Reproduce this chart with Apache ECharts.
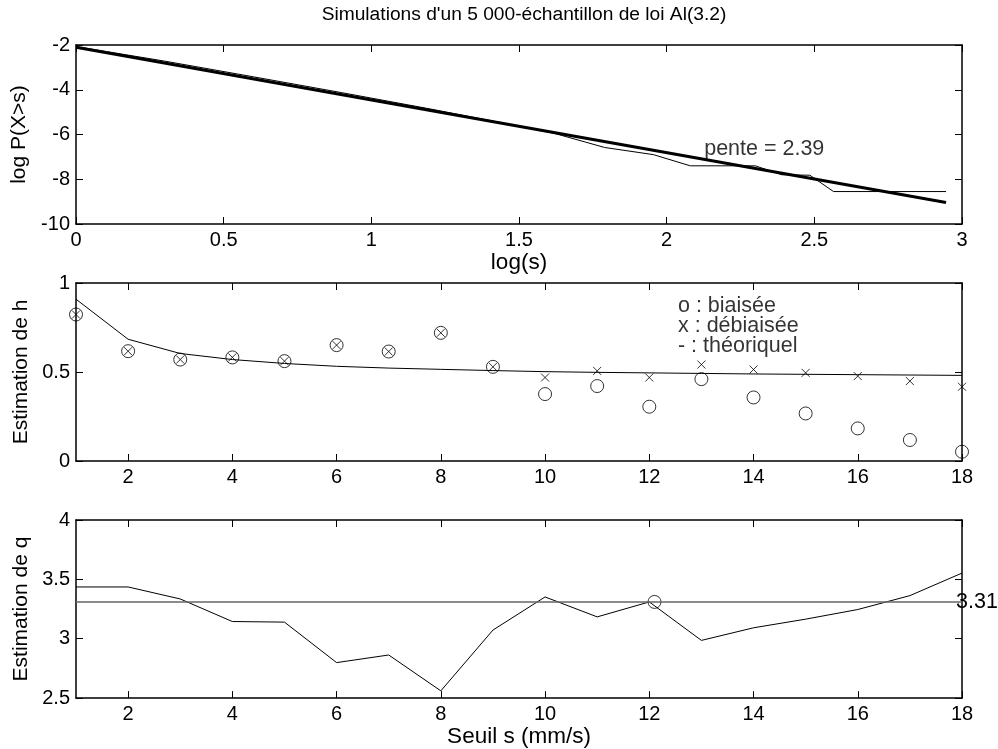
<!DOCTYPE html>
<html>
<head>
<meta charset="utf-8">
<script src="https://cdn.jsdelivr.net/npm/echarts@6/dist/echarts.min.js"></script>
<style>
  html, body { margin: 0; padding: 0; background: #fff; }
  #chart { width: 998px; height: 749px; }
</style>
</head>
<body>
<div id="chart"></div>
<script>
// top panel : log-log tail
var logS = [0, 0.3, 0.6, 0.9, 1.2, 1.45, 1.62, 1.79, 1.955, 2.08, 2.3, 2.39, 2.485, 2.565, 2.946];
var logP = [-2.07, -2.72, -3.42, -4.13, -4.86, -5.5, -5.95, -6.58, -6.9, -7.4, -7.4, -7.8, -7.82, -8.55, -8.55];
var fitX = [0, 2.946];
var fitY = [-2.1, -9.04];

// middle panel : estimation of h
var seuils = [1, 2, 3, 4, 5, 6, 7, 8, 9, 10, 11, 12, 13, 14, 15, 16, 17, 18];
var hBiaisee = [0.823, 0.617, 0.570, 0.582, 0.561, 0.651, 0.615, 0.720, 0.529, 0.376, 0.421, 0.305, 0.460, 0.357, 0.267, 0.183, 0.118, 0.052];
var hDebiaisee = [0.823, 0.617, 0.570, 0.582, 0.561, 0.651, 0.615, 0.720, 0.529, 0.469, 0.506, 0.469, 0.542, 0.514, 0.495, 0.477, 0.449, 0.417];
var hTheorique = [0.909, 0.684, 0.604, 0.570, 0.548, 0.532, 0.522, 0.515, 0.508, 0.502, 0.498, 0.495, 0.492, 0.489, 0.487, 0.485, 0.483, 0.481];
var legendLines = ['o : biaisée', 'x : débiaisée', '- : théoriquel'];
var legendY = [0.869, 0.757, 0.645];

// bottom panel : estimation of q
var qEst = [3.436, 3.436, 3.335, 3.145, 3.14, 2.799, 2.863, 2.561, 3.073, 3.352, 3.184, 3.31, 2.986, 3.092, 3.165, 3.246, 3.363, 3.553];
var qMoyen = 3.31;
var qPoint = [12.1, 3.31];

var evenTicks = [2, 4, 6, 8, 10, 12, 14, 16, 18];
var font = "'Liberation Sans', Arial, Helvetica, sans-serif";
var tickSize = 20;
var nameSize = 21.5;

function pairs(xs, ys) {
  return xs.map(function (x, i) { return [x, ys[i]]; });
}

function xAxisFor(grid, min, max, interval, name, gap, custom, main) {
  var ax = {
    type: 'value', gridIndex: grid, min: min, max: max, interval: interval,
    position: main ? 'bottom' : 'top',
    axisLine: { show: true, onZero: false, lineStyle: { color: '#000', width: 1.5 } },
    axisTick: { show: true, inside: true, length: 7, lineStyle: { color: '#000' } },
    axisLabel: { show: main, color: '#000', fontSize: tickSize, fontFamily: font, margin: 6 },
    splitLine: { show: false }
  };
  if (custom) {
    ax.axisTick.customValues = custom;
    ax.axisLabel.customValues = custom;
  }
  if (main && name) {
    ax.name = name;
    ax.nameLocation = 'middle';
    ax.nameGap = gap;
    ax.nameTextStyle = { color: '#000', fontSize: 22.5, fontFamily: font };
  }
  return ax;
}

function yAxisFor(grid, min, max, interval, name, main) {
  var ax = {
    type: 'value', gridIndex: grid, min: min, max: max, interval: interval,
    position: main ? 'left' : 'right',
    axisLine: { show: true, onZero: false, lineStyle: { color: '#000', width: 1.5 } },
    axisTick: { show: true, inside: true, length: 7, lineStyle: { color: '#000' } },
    axisLabel: { show: main, color: '#000', fontSize: tickSize, fontFamily: font, margin: 6 },
    splitLine: { show: false }
  };
  if (main) {
    ax.name = name;
    ax.nameLocation = 'middle';
    ax.nameGap = 41;
    ax.nameTextStyle = { color: '#000', fontSize: 21, fontFamily: font };
  }
  return ax;
}

var chart = echarts.init(document.getElementById('chart'));
chart.setOption({
  animation: false,
  backgroundColor: '#fff',
  title: {
    text: "Simulations d'un 5 000-échantillon de loi Al(3.2)",
    left: 519, top: 0, textAlign: 'center',
    textStyle: { color: '#000', fontSize: 19.2, fontWeight: 'normal', fontFamily: font }
  },
  grid: [
    { left: 76, right: 36, top: 45, height: 179 },
    { left: 76, right: 36, top: 283, height: 178 },
    { left: 76, right: 36, top: 520, height: 179 }
  ],
  xAxis: [
    xAxisFor(0, 0, 3, 0.5, 'log(s)', 27, null, true),
    xAxisFor(0, 0, 3, 0.5, null, 0, null, false),
    xAxisFor(1, 1, 18, 1, null, 0, evenTicks, true),
    xAxisFor(1, 1, 18, 1, null, 0, evenTicks, false),
    xAxisFor(2, 1, 18, 1, 'Seuil s (mm/s)', 23, evenTicks, true),
    xAxisFor(2, 1, 18, 1, null, 0, evenTicks, false)
  ],
  yAxis: [
    yAxisFor(0, -10, -2, 2, 'log P(X>s)', true),
    yAxisFor(0, -10, -2, 2, null, false),
    yAxisFor(1, 0, 1, 0.5, 'Estimation de h', true),
    yAxisFor(1, 0, 1, 0.5, null, false),
    yAxisFor(2, 2.5, 4, 0.5, 'Estimation de q', true),
    yAxisFor(2, 2.5, 4, 0.5, null, false)
  ],
  series: [
    {
      type: 'line', xAxisIndex: 0, yAxisIndex: 0, data: pairs(logS, logP),
      showSymbol: false, lineStyle: { color: '#000', width: 1 }
    },
    {
      type: 'line', xAxisIndex: 0, yAxisIndex: 0, data: pairs(fitX, fitY),
      showSymbol: false, lineStyle: { color: '#000', width: 3 }
    },
    {
      type: 'scatter', xAxisIndex: 0, yAxisIndex: 0, data: [[2.127, -6.64]],
      symbolSize: 0, silent: true,
      label: { show: true, position: 'right', distance: 0, formatter: 'pente = 2.39',
               color: '#000', fontSize: nameSize, fontFamily: font }
    },
    {
      type: 'line', xAxisIndex: 2, yAxisIndex: 2, data: pairs(seuils, hTheorique),
      showSymbol: false, lineStyle: { color: '#000', width: 1 }
    },
    {
      type: 'scatter', xAxisIndex: 2, yAxisIndex: 2, data: pairs(seuils, hBiaisee),
      symbol: 'circle', symbolSize: 13,
      itemStyle: { color: 'rgba(0,0,0,0)', borderColor: '#000', borderWidth: 1 }
    },
    {
      type: 'scatter', xAxisIndex: 2, yAxisIndex: 2, data: pairs(seuils, hDebiaisee),
      symbol: 'path://M0,0L10,10M10,0L0,10', symbolSize: 8,
      itemStyle: { color: 'rgba(0,0,0,0)', borderColor: '#000', borderWidth: 1 }
    },
    {
      type: 'scatter', xAxisIndex: 2, yAxisIndex: 2, symbolSize: 0, silent: true,
      data: legendLines.map(function (t, i) { return { value: [12.55, legendY[i]], name: t }; }),
      label: { show: true, position: 'right', distance: 0, formatter: '{b}',
               color: '#000', fontSize: nameSize, fontFamily: font }
    },
    {
      type: 'line', xAxisIndex: 4, yAxisIndex: 4, data: pairs(seuils, qEst),
      showSymbol: false, lineStyle: { color: '#000', width: 1 },
      markLine: {
        silent: true, symbol: 'none',
        lineStyle: { color: '#666', width: 1.5, type: 'solid' },
        label: { show: true, position: 'end', distance: -6, formatter: '3.31',
                 color: '#000', fontSize: nameSize, fontFamily: font },
        data: [{ yAxis: qMoyen }]
      }
    },
    {
      type: 'scatter', xAxisIndex: 4, yAxisIndex: 4, data: [qPoint],
      symbol: 'circle', symbolSize: 13,
      itemStyle: { color: 'rgba(0,0,0,0)', borderColor: '#000', borderWidth: 1 }
    }
  ]
});
</script>
</body>
</html>
